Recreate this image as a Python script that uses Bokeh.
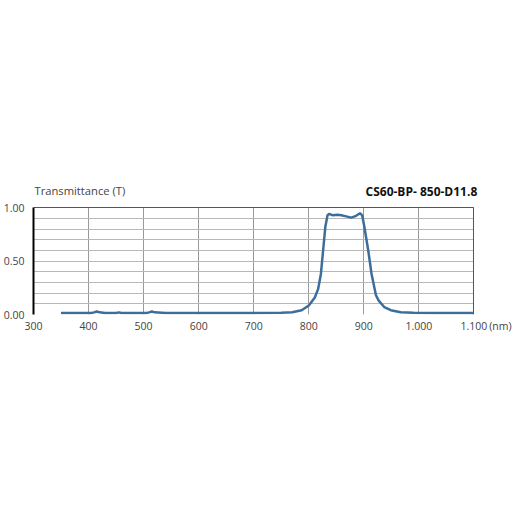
from bokeh.plotting import figure
from bokeh.models import Range1d, FixedTicker, Label, Grid
from bokeh.embed import file_html
from bokeh.resources import INLINE

# Data
wavelength = [350, 380, 405, 410, 415, 420, 430, 450, 455, 460, 480, 505, 510, 515, 520, 540,
              600, 700, 750, 770, 787, 800, 811, 817, 822, 826, 830, 834, 837, 844, 852, 859,
              868, 877, 886, 893, 897, 901, 908, 914, 922, 927, 937, 949, 967, 990, 1020, 1100]
transmittance = [0.015, 0.015, 0.015, 0.02, 0.028, 0.02, 0.015, 0.015, 0.02, 0.015, 0.015, 0.015,
                 0.02, 0.028, 0.02, 0.015, 0.015, 0.015, 0.016, 0.022, 0.04, 0.085, 0.16, 0.24,
                 0.38, 0.6, 0.82, 0.93, 0.944, 0.93, 0.935, 0.93, 0.92, 0.908, 0.925, 0.95, 0.93,
                 0.82, 0.6, 0.38, 0.18, 0.13, 0.07, 0.04, 0.022, 0.016, 0.015, 0.015]
x_ticks = [300, 400, 500, 600, 700, 800, 900, 1000, 1100]
x_tick_labels = ["300", "400", "500", "600", "700", "800", "900", "1.000", "1.100"]
y_ticks = [0, 0.5, 1.0]
y_tick_labels = ["0.00", "0.50", "1.00"]
y_minor = [0.1, 0.2, 0.3, 0.4, 0.6, 0.7, 0.8, 0.9]
y_title = "Transmittance (T)"
chart_title = "CS60-BP- 850-D11.8"
x_unit = "(nm)"
x_unit_pos = 1148

X0, X1 = 300, 1100
Y0, Y1 = 0.0, 1.0

FONT = "Open Sans"
TXT = "#444444"

p = figure(width=512, height=512, output_backend="svg", toolbar_location=None,
           x_range=Range1d(X0, 1170), y_range=Range1d(Y0, 1.35),
           min_border_left=32, min_border_right=0, min_border_top=170, min_border_bottom=198)
p.outline_line_color = None
p.background_fill_color = "white"
p.border_fill_color = "white"

# grids (limited to the data box)
p.xgrid.ticker = FixedTicker(ticks=x_ticks)
p.xgrid.cross_bounds = (Y0, Y1)
p.xgrid.grid_line_color = "#9a9a9a"
p.ygrid.cross_bounds = (X0, X1)
p.ygrid.grid_line_color = "#b8b8b8"
p.ygrid.minor_grid_line_color = "#b8b8b8"
# box border top / right and bottom axis line
p.add_layout(Grid(dimension=0, ticker=FixedTicker(ticks=[X1]), cross_bounds=(Y0, Y1),
                  grid_line_color="#555555", grid_line_width=1))
p.add_layout(Grid(dimension=1, ticker=FixedTicker(ticks=[Y1]), cross_bounds=(X0, X1),
                  grid_line_color="#555555", grid_line_width=1))
p.add_layout(Grid(dimension=1, ticker=FixedTicker(ticks=[Y0]), cross_bounds=(X0, X1),
                  grid_line_color="black", grid_line_width=2))

p.line(wavelength, transmittance, line_color="#3d6e9b", line_width=2.5)

# x axis (tick labels + unit label)
p.xaxis.ticker = FixedTicker(ticks=x_ticks + [x_unit_pos])
labels = {t: l for t, l in zip(x_ticks, x_tick_labels)}
labels[x_unit_pos] = x_unit
p.xaxis.major_label_overrides = labels
p.xaxis.axis_line_color = None
# y axis
p.yaxis.ticker = FixedTicker(ticks=y_ticks, minor_ticks=y_minor)
p.yaxis.major_label_overrides = {t: l for t, l in zip(y_ticks, y_tick_labels)}
p.yaxis.bounds = (Y0, Y1)
p.yaxis.axis_line_color = "black"
p.yaxis.axis_line_width = 2

for ax in (p.xaxis, p.yaxis):
    ax.major_tick_line_color = None
    ax.minor_tick_line_color = None
    ax.major_tick_out = 0
    ax.major_tick_in = 0
    ax.major_label_text_font = FONT
    ax.major_label_text_font_size = "10.5px"
    ax.major_label_text_color = TXT
p.xaxis.major_label_standoff = 4
p.yaxis.major_label_standoff = 5

p.add_layout(Label(x=X0, y=1.1625, text=y_title, text_font=FONT, text_font_size="11.2px",
                   text_color=TXT, text_baseline="middle", text_align="left", x_offset=1))
p.add_layout(Label(x=1106, y=1.153, text=chart_title, text_font=FONT, text_font_size="12px",
                   text_font_style="bold", text_color="#111111", text_baseline="middle",
                   text_align="right"))

open("out.html", "w").write(file_html(p, INLINE))
